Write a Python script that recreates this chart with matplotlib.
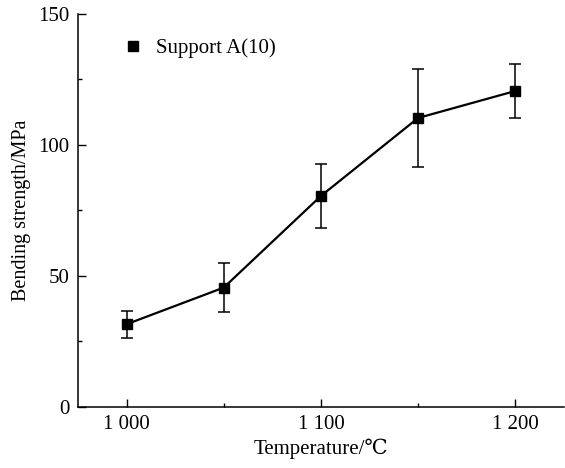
import matplotlib
matplotlib.use("Agg")
import matplotlib.pyplot as plt
from matplotlib.lines import Line2D
from matplotlib.ticker import MultipleLocator, FixedLocator

# data
temperature = [1000, 1050, 1100, 1150, 1200]
strength = [31.5, 45.5, 80.5, 110.3, 120.6]
strength_err = [5.2, 9.5, 12.3, 18.7, 10.2]

x_major = [1000, 1100, 1200]
x_minor = [1050, 1150]
x_labels = ["1 000", "1 100", "1 200"]

plt.rcParams["font.family"] = ["Liberation Serif", "DejaVu Serif", "DejaVu Sans"]

fig = plt.figure(figsize=(5.65, 4.68), dpi=100)
ax = fig.add_axes([0.138, 0.131, 0.860, 0.839])

ax.errorbar(
    temperature, strength, yerr=strength_err,
    color="black", marker="s", markersize=7, linewidth=1.6,
    elinewidth=1.1, capsize=4, capthick=1.1,
)

ax.set_xlim(975, 1225)
ax.set_ylim(0, 150)
ax.xaxis.set_major_locator(FixedLocator(x_major))
ax.xaxis.set_minor_locator(FixedLocator(x_minor))
ax.set_xticklabels(x_labels)
ax.yaxis.set_major_locator(MultipleLocator(50))
ax.yaxis.set_minor_locator(MultipleLocator(25))

ax.spines["top"].set_visible(False)
ax.spines["right"].set_visible(False)
for s in ("left", "bottom"):
    ax.spines[s].set_linewidth(1.1)

ax.tick_params(which="major", direction="in", length=6, width=1.0,
               labelsize=15, pad=6)
ax.tick_params(which="minor", direction="in", length=3, width=1.0)

ax.set_xlabel("Temperature/℃", fontsize=15, labelpad=3)
ax.set_ylabel("Bending strength/MPa", fontsize=14.5, labelpad=5)

# legend shows the marker only
proxy = Line2D([], [], color="black", marker="s", markersize=7, linestyle="none")
ax.legend([proxy], ["Support A(10)"], loc="upper left", frameon=False,
          fontsize=15, handlelength=1.0, handletextpad=0.6,
          bbox_to_anchor=(0.053, 0.985))

fig.savefig("out.png", dpi=100)
